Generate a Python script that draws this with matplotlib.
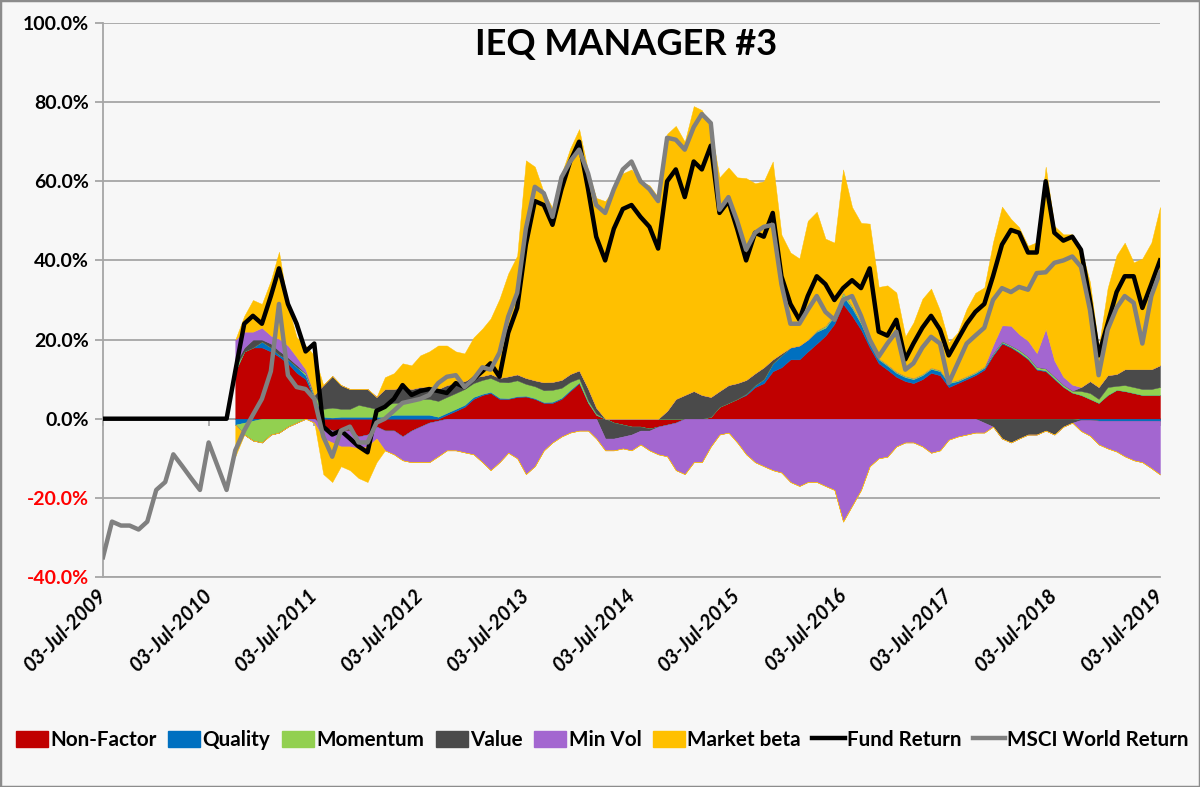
import matplotlib
matplotlib.use("Agg")
import matplotlib.pyplot as plt
import matplotlib.dates as mdates
import numpy as np
import pandas as pd
from matplotlib.patches import Patch, Rectangle
from matplotlib.lines import Line2D
from matplotlib.ticker import FuncFormatter

# ---------------- data (percent) ----------------
start_date = "2009-07-03"
n_months = 121
factor_start_month = 15  # factor attribution starts Oct-2010

fund_return = [0]*15 + [
    12, 24, 26, 24, 31, 38, 29, 24, 17, 19,
    -2, -4, -3, -5, -7, -8.5, 2, 3, 5, 8.5,
    6, 7, 7.5, 7, 6.5, 9, 8, 10, 12, 14,
    10.6, 21.7, 28, 44, 55, 54, 49, 58, 65, 70,
    58, 46, 40, 48, 53, 54, 51, 48.5, 43, 60,
    63, 56, 65, 63, 69, 52, 55, 48, 40, 47,
    46, 52, 36, 29, 25, 31, 36, 34, 30, 33,
    35, 33, 38, 22, 21, 25, 15, 19, 23, 26,
    22.5, 16, 20, 24, 27, 29, 36, 44, 47.7, 47,
    42, 42, 60, 47, 45, 46, 42.7, 30, 16, 24,
    32, 36, 36, 28, 34, 40]

msci_return = [
    -35, -26, -27, -27, -28, -26, -18, -16, -9, -12, -15, -18, -6, -12, -18,
    -8, -3, 1, 5, 12, 29, 11, 8, 7.5, 5,
    -4.5, -9.6, -3, -2, -6, -6, -1, 0, 2, 4,
    4.5, 5, 6, 9, 10.6, 11, 8, 10, 13, 12.4,
    16.7, 25.8, 31.8, 48, 58.6, 57, 51, 61, 65, 68,
    62, 54, 52, 58, 63, 65, 60, 58, 55, 71,
    70.5, 68, 73.7, 77, 74.7, 52.8, 56, 50, 42.7, 47,
    48.5, 49, 34, 24, 24, 27.5, 31, 27, 25, 30,
    31, 26, 20, 15.7, 19, 22, 12.4, 14, 18, 20.7,
    19, 9, 14, 19, 21, 23, 30, 33, 32, 33.3,
    32.6, 36.8, 37, 39.4, 40, 41, 38.4, 27.5, 11, 22.5,
    28, 31, 29.3, 19, 31, 37]

non_factor = [
    12, 17, 18, 18, 17, 15.7, 14, 11.6, 10, 5,
    -2, -3, -3, -3, -4.5, -4, -2, -3, -3, -4.5,
    -3, -2, -1, -0.5, 1, 2, 3, 5, 6, 6.5,
    5, 5, 5.5, 5.6, 5, 4, 4, 5, 7, 9,
    4, 1, 0, -1, -1.5, -2, -2, -2.5, -2, -1.5,
    -1, 0, 0, 0, 0.5, 3, 4, 5, 6, 8,
    9, 12, 13, 15, 15, 17, 19, 21, 24, 29,
    26, 22.5, 18, 14, 12.4, 10.6, 9.5, 9, 10, 11.6,
    11, 8, 9, 10, 11, 12.4, 16, 19, 18, 16.7,
    15, 12.4, 12, 10, 8, 6.6, 6, 5, 4, 6,
    7.3, 7, 6.5, 6, 6, 6]

quality = [
    -1.5, -1, -0.5, 1.5, 1, 0.5, 1, 1.5, 1, 0.5,
    0.5, 0.3, 0.5, 0.5, 0.5, 0.5, 0.5, 0.5, 1, 1,
    1, 1, 1, 0.5, 0.5, 0.5, 0.5, 0.5, 0.3, 0.3,
    0.3, 0.2, 0.2, 0.2, 0.2, 0.2, 0.3, 0.3, 0.3, 0.2,
    0.1, 0, 0, 0, 0, 0, 0, 0, 0, 0,
    0, 0, 0, 0, 0, 0, 0, 0, 0.3, 0.5,
    1, 2, 3, 3, 3.5, 3, 3, 2, 2, 2,
    2, 1.5, 1, 1, 1, 1, 1, 1, 1, 1,
    1, 1, 0.5, 0.5, 0.5, 0.5, 0.3, 0.3, 0.2, 0.2,
    0.2, 0.2, 0.2, 0.2, 0.1, 0, -0.3, -0.3, -0.5, -0.5,
    -0.5, -0.5, -0.5, -0.5, -0.5, -0.5]

momentum = [
    1, -3, -5, -6, -4, -3.5, -2, -1, 0.5, 0.5,
    2, 2.5, 2, 2, 3, 2.5, 2, 3, 3, 3,
    3.5, 4, 4, 4, 4, 4, 4, 3.5, 3.5, 3.5,
    4, 4, 4, 3, 3, 3, 3, 2.5, 2, 1,
    0.5, 0.3, 0, 0, 0, 0, 0, 0, 0, 0,
    0, 0, 0, 0, 0, 0, 0, 0, 0, 0,
    0, 0, 0, 0, 0, 0, 0.3, 0.5, 0.5, 1,
    0.5, 0.5, 0.3, 0.3, 0.3, 0.3, 0.3, 0.3, 0.3, 0.3,
    0.3, 0.3, 0.3, 0.3, 0.3, 0.3, 0.3, 0.3, 0.3, 0.5,
    0.5, 0.5, 0.5, 0.5, 0.5, 0.5, 1, 1.5, 1, 2,
    1, 1.5, 1.5, 1.5, 1.5, 2]

value = [
    1, 1, 2, 0.5, 1, 1, 0.5, 0.5, 0, 0,
    6, 8, 6, 5, 4, 4.5, 3, 4, 3.5, 4,
    3, 3, 3, 3, 3, 2.5, 2, 1.5, 1, 1,
    1, 1.5, 1.5, 1.5, 1.5, 2, 2, 2, 2, 2,
    3, 1.5, -5, -4, -3, -2, -1, -0.5, 0, 2,
    5, 6, 7, 6, 5, 4, 4.5, 4, 3.5, 3,
    3, 1, 0.5, 0, 0, 0, 0, 0, 0, 0,
    0, 0, 0, 0, 0, 0, 0, 0, 0, 0,
    0, 0, 0, 0, 0, -1, -2, -5, -6, -5,
    -4, -4, -3, -4, -2, -1, 1, 3, 3, 3,
    3, 4, 4.5, 5, 5, 5.5]

min_vol = [
    6, 4, 2, 3, 2, 3, 3, 2, 1, -1,
    -3, -3, -4, -4, -3, -3, -3, -5, -6, -6,
    -8, -9, -10, -9, -8, -8, -8.5, -9, -11, -13,
    -11, -8.6, -10, -14, -12, -8, -6, -4.5, -3.5, -3,
    -3, -5, -3, -3, -3, -4, -3.5, -5, -7, -8,
    -12, -14, -11, -11, -7, -4, -3.5, -6, -9, -11,
    -12, -13, -13.6, -16, -17, -16, -16, -17, -18, -26,
    -22, -18, -12, -10, -9.6, -7, -6, -6, -7, -8.6,
    -8, -5.3, -4.5, -4, -3.5, -2.5, 2, 4, 5, 4,
    4, 3.5, 10, 4, 2, 1.5, -2.8, -4, -6, -7,
    -7.8, -9, -10, -10.5, -12, -13.6]

market_beta = [
    -8, 4, 8, 6, 14, 22, 10, 5, 6, 10,
    -9, -10, -5, -6, -7.5, -9, -6, 3, 4, 6,
    6, 8, 9, 11, 10, 8, 7, 10, 12, 14,
    20, 26, 30, 55, 54, 48, 44, 52, 57, 61,
    55, 53, 55, 58, 62, 63, 60, 59, 56, 70,
    69, 64, 72, 72, 68, 54, 55, 52, 51, 48,
    47, 50, 30, 24, 22, 30, 30, 22, 18, 31,
    25, 25, 30, 18, 20, 20, 10, 14, 19, 20,
    15, 10, 12, 17, 20, 20, 26, 30, 27, 27,
    24, 28, 41, 34, 36, 38, 35, 25, 10, 22,
    30, 32, 27, 28, 32, 40]

factor_names = ["Non-Factor", "Quality", "Momentum", "Value", "Min Vol", "Market beta"]
factor_values = [non_factor, quality, momentum, value, min_vol, market_beta]
factor_colors = ["#c00000", "#0070c0", "#92d050", "#4a4a4a", "#a366d0", "#ffc000"]
line_names = ["Fund Return", "MSCI World Return"]
line_colors = ["#000000", "#808080"]
year_ticks = [f"{y}-07-03" for y in range(2009, 2020)]

# ---------------- figure ----------------
FONT = "Lato"
bg = "#f7f7f7"
grid_c = "#a6a6a6"

fig = plt.figure(figsize=(12, 7.87), dpi=100, facecolor=bg)
ax = fig.add_axes([103/1200, 1-577/787, (1160-103)/1200, (577-23)/787])
ax.set_facecolor(bg)

months = [pd.Timestamp(start_date) + pd.DateOffset(months=i) for i in range(n_months)]
x_all = mdates.date2num(months)
xf = x_all[factor_start_month:]

pos_base = np.zeros(len(xf))
neg_base = np.zeros(len(xf))
for vals, col in zip(factor_values, factor_colors):
    v = np.asarray(vals, dtype=float)
    p = np.clip(v, 0, None)
    ng = np.clip(v, None, 0)
    ax.fill_between(xf, pos_base, pos_base + p, facecolor=col, edgecolor=col, lw=0.3, zorder=2)
    ax.fill_between(xf, neg_base, neg_base + ng, facecolor=col, edgecolor=col, lw=0.3, zorder=2)
    pos_base += p
    neg_base += ng

ax.plot(x_all, fund_return, color=line_colors[0], lw=3.2, zorder=4, solid_joinstyle="round")
ax.plot(x_all, msci_return, color=line_colors[1], lw=3.2, zorder=5, solid_joinstyle="round")

# axes
ax.set_ylim(-40, 100)
ax.set_yticks(np.arange(-40, 101, 20))
ax.yaxis.set_major_formatter(FuncFormatter(lambda v, p: f"{v:.1f}%"))
tick_x = mdates.date2num(pd.to_datetime(year_ticks))
ax.set_xlim(tick_x[0], tick_x[-1])
ax.set_xticks(tick_x)
ax.xaxis.set_major_formatter(mdates.DateFormatter("%d-%b-%Y"))

ax.grid(axis="y", color=grid_c, lw=1.3, zorder=1)
ax.set_axisbelow(True)
for s in ["top", "right"]:
    ax.spines[s].set_visible(False)
for s in ["left", "bottom"]:
    ax.spines[s].set_color(grid_c)
    ax.spines[s].set_linewidth(1.3)

ax.tick_params(axis="y", length=6, color=grid_c, width=1.3, pad=4)
ax.tick_params(axis="x", length=0, pad=11)
for lab in ax.get_yticklabels():
    lab.set_fontfamily(FONT)
    lab.set_fontweight("bold")
    lab.set_fontsize(14)
for lab, v in zip(ax.get_yticklabels(), ax.get_yticks()):
    lab.set_color("#ff0000" if v < 0 else "#000000")
for lab in ax.get_xticklabels():
    lab.set_fontfamily(FONT)
    lab.set_fontweight("bold")
    lab.set_fontstyle("italic")
    lab.set_fontsize(14.5)
    lab.set_rotation(45)
    lab.set_rotation_mode("anchor")
    lab.set_ha("right")
    lab.set_va("center")

# zero axis line with tick marks
secax = ax.secondary_xaxis(40/140)
secax.set_xticks(tick_x)
secax.xaxis.set_ticks_position("bottom")
secax.tick_params(axis="x", length=5, color=grid_c, width=1.3, labelbottom=False, labeltop=False)
for s in secax.spines:
    secax.spines[s].set_visible(False)
secax.spines["bottom"].set_visible(True)
secax.spines["bottom"].set_color(grid_c)
secax.spines["bottom"].set_linewidth(1.3)

# title
fig.text(626/1200, 1-45/787, "IEQ MANAGER #3", ha="center", va="center",
         fontsize=26, fontweight="bold", fontfamily=FONT)

# legend
handles = [Patch(facecolor=c, edgecolor=c) for c in factor_colors] + \
          [Line2D([0], [0], color=c, lw=3.2) for c in line_colors]
labels = factor_names + line_names
fig.legend(handles, labels, loc="center", bbox_to_anchor=(0.502, 1-740/787), ncol=8,
           frameon=False, handlelength=1.55, handleheight=0.8, handletextpad=0.12,
           columnspacing=0.55, borderaxespad=0,
           prop={"family": FONT, "weight": "bold", "size": 14.9})

fig.patches.append(Rectangle((0, 0), 1, 1, transform=fig.transFigure, fill=False,
                             edgecolor="#8c8c8c", lw=2.5))

fig.savefig("out.png", dpi=100, facecolor=bg)
